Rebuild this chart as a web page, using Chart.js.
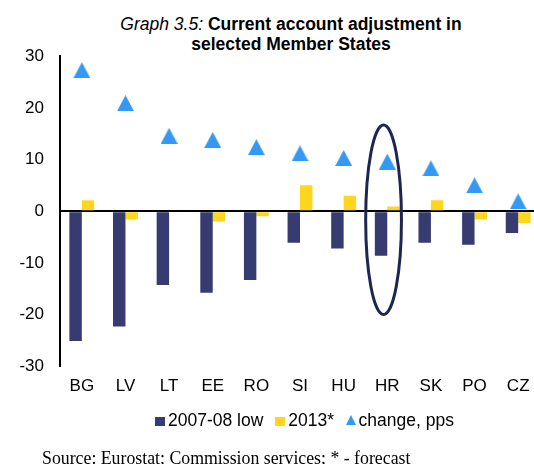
<!DOCTYPE html>
<html>
<head>
<meta charset="utf-8">
<script src="https://cdn.jsdelivr.net/npm/chart.js@4"></script>
<style>
  html, body { margin: 0; padding: 0; background: #fff; }
  body { width: 534px; height: 464px; overflow: hidden; position: relative; font-family: "Liberation Sans", Arial, sans-serif; color: #000; }
  #chart { position: absolute; left: 0; top: 0; }
  .title { position: absolute; left: 0; top: 14px; width: 582px; text-align: center; font-size: 17.5px; font-weight: bold; line-height: 20px; }
  .title i { font-weight: normal; }
  #legend { position: absolute; left: 155px; top: 410px; font-size: 17.5px; line-height: 20px; white-space: nowrap; }
  #legend span.item { display: inline-block; margin-right: 12px; }
  #legend .sw { display: inline-block; width: 9.5px; height: 9.5px; margin-right: 3.5px; vertical-align: 0px; }
  #legend .tri { display: inline-block; width: 0; height: 0; border-left: 5.5px solid transparent; border-right: 5.5px solid transparent; border-bottom: 10px solid #3399F3; margin-right: 2.5px; vertical-align: 1px; }
  .source { position: absolute; left: 42px; top: 449px; font-family: "Liberation Serif", "Times New Roman", serif; font-size: 17.8px; line-height: 18px; }
</style>
</head>
<body>
<div class="title"><i>Graph 3.5:</i> Current account adjustment in<br>selected Member States</div>
<canvas id="chart" width="545" height="464"></canvas>
<div id="legend"></div>
<div class="source">Source: Eurostat; Commission services; * - forecast</div>
<script>
// values
const categories = ['BG', 'LV', 'LT', 'EE', 'RO', 'SI', 'HU', 'HR', 'SK', 'PO', 'CZ'];
const low0708 = [-25.1, -22.3, -14.3, -15.8, -13.3, -6.1, -7.2, -8.6, -6.1, -6.5, -4.2];
const forecast2013 = [2.1, -1.6, 0.0, -2.0, -1.0, 5.0, 3.0, 0.9, 2.1, -1.6, -2.3];
const changePps = [27.3, 20.9, 14.6, 13.8, 12.4, 11.2, 10.3, 9.6, 8.3, 5.0, 1.9];
const yTicks = [-30, -20, -10, 0, 10, 20, 30];
// HR highlight ring, in axis units
const ringTop = 16.7;
const ringBottom = -20.0;

const NAVY = '#363B70';
const YELLOW = '#FFD61E';
const BLUE = '#3399F3';

// triangle marker drawn into a small canvas so it sits centred like Excel's
const tri = document.createElement('canvas');
tri.width = 17; tri.height = 16;
(function () {
  const c = tri.getContext('2d');
  c.fillStyle = BLUE;
  c.beginPath();
  c.moveTo(8.5, 0);
  c.lineTo(17, 16);
  c.lineTo(0, 16);
  c.closePath();
  c.fill();
})();

const hrRing = {
  id: 'hrRing',
  afterDatasetsDraw(chart) {
    const { ctx, scales: { x, y } } = chart;
    const i = categories.indexOf('HR');
    const cw = x.getPixelForValue(1) - x.getPixelForValue(0);
    const cx = x.getPixelForValue(i) - 0.085 * cw;
    const top = y.getPixelForValue(ringTop);
    const bot = y.getPixelForValue(ringBottom);
    ctx.save();
    ctx.beginPath();
    ctx.ellipse(cx, (top + bot) / 2, 0.41 * cw, (bot - top) / 2, 0, 0, Math.PI * 2);
    ctx.lineWidth = 3;
    ctx.strokeStyle = '#1F2552';
    ctx.stroke();
    ctx.restore();
  }
};

Chart.defaults.font.family = '"Liberation Sans", Arial, sans-serif';
Chart.defaults.font.size = 17;
Chart.defaults.color = '#000';

const chart = new Chart(document.getElementById('chart'), {
  type: 'bar',
  data: {
    labels: categories,
    datasets: [
      { label: '2007-08 low', data: low0708, backgroundColor: NAVY, order: 1 },
      { label: '2013*', data: forecast2013, backgroundColor: YELLOW, order: 1 },
      { label: 'change, pps', type: 'line', data: changePps, showLine: false,
        pointStyle: tri, backgroundColor: BLUE, order: 0 }
    ]
  },
  options: {
    responsive: false,
    animation: false,
    layout: { padding: { top: 56.2, bottom: 57.4, left: 0, right: 2 } },
    datasets: { bar: { categoryPercentage: 0.57, barPercentage: 1.0 } },
    plugins: { legend: { display: false }, tooltip: { enabled: false } },
    scales: {
      x: {
        grid: { display: false, drawTicks: false },
        border: { display: false },
        ticks: { padding: 10, maxRotation: 0 }
      },
      y: {
        min: -30, max: 30,
        afterFit(scale) { scale.width = 60; },
        afterBuildTicks(scale) { scale.ticks = yTicks.map(v => ({ value: v })); },
        grid: {
          drawTicks: false,
          lineWidth: 2,
          color: ctx => (ctx.tick && ctx.tick.value === 0 ? '#000' : 'rgba(0,0,0,0)')
        },
        border: { display: true, color: '#000', width: 2 },
        ticks: { padding: 16 }
      }
    }
  },
  plugins: [hrRing]
});

// legend as html so the spacing follows the original
const legendEl = document.getElementById('legend');
chart.data.datasets.forEach((ds, i) => {
  const item = document.createElement('span');
  item.className = 'item';
  const mark = document.createElement('span');
  if (i === 2) {
    mark.className = 'tri';
  } else {
    mark.className = 'sw';
    mark.style.background = ds.backgroundColor;
  }
  item.appendChild(mark);
  item.appendChild(document.createTextNode(ds.label));
  legendEl.appendChild(item);
});
</script>
</body>
</html>
